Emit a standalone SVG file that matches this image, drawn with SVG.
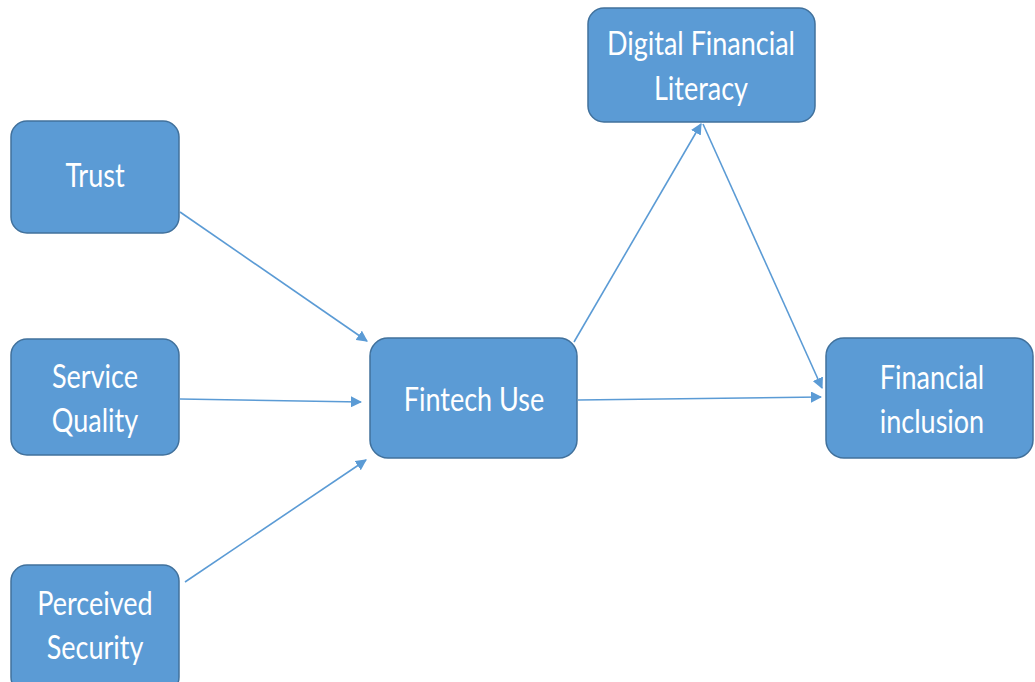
<svg xmlns="http://www.w3.org/2000/svg" width="1035" height="682" viewBox="0 0 1035 682">
  <defs>
    <style>
      .box { fill: #5B9BD5; stroke: #41719C; stroke-width: 1.5; }
      .lbl { fill: #FFFFFF; font-family: "Lato", "Open Sans", "Liberation Sans", sans-serif; font-size: 27px; text-anchor: middle; }
      .edge { fill: none; stroke: #5B9BD5; stroke-width: 1.6; marker-end: url(#arrow); }
    </style>
    <marker id="arrow" viewBox="0 0 10 10" refX="9" refY="5" markerWidth="7" markerHeight="7" markerUnits="strokeWidth" orient="auto">
      <path d="M0,0 L10,5 L0,10 z" fill="#5B9BD5"/>
    </marker>
  </defs>
  <rect width="1035" height="682" fill="#FFFFFF"/>

  <g id="connectors">
    <line class="edge" x1="180" y1="212" x2="367" y2="341"/>
    <line class="edge" x1="180" y1="399" x2="361" y2="402"/>
    <line class="edge" x1="185" y1="582" x2="366" y2="460"/>
    <line class="edge" x1="574" y1="342" x2="701" y2="124"/>
    <line class="edge" x1="703" y1="124" x2="822" y2="388"/>
    <line class="edge" x1="578" y1="400" x2="821" y2="397"/>
  </g>

  <g id="trust">
    <rect class="box" x="11" y="121" width="168" height="112" rx="16"/>
    <text class="lbl" transform="translate(95,187) scale(1,1.25)">Trust</text>
  </g>

  <g id="service-quality">
    <rect class="box" x="11" y="339" width="168" height="116" rx="16"/>
    <text class="lbl" transform="translate(95,388) scale(1,1.25)"><tspan x="0" y="0">Service</tspan><tspan x="0" dy="35.2">Quality</tspan></text>
  </g>

  <g id="perceived-security">
    <rect class="box" x="11" y="565" width="168" height="128" rx="16"/>
    <text class="lbl" transform="translate(95,615) scale(1,1.25)"><tspan x="0" y="0">Perceived</tspan><tspan x="0" dy="35.2">Security</tspan></text>
  </g>

  <g id="fintech-use">
    <rect class="box" x="370" y="338" width="207" height="120" rx="18"/>
    <text class="lbl" transform="translate(474,411) scale(1,1.25)">Fintech Use</text>
  </g>

  <g id="digital-financial-literacy">
    <rect class="box" x="588" y="8" width="227" height="114" rx="16"/>
    <text class="lbl" transform="translate(701,55) scale(1,1.25)"><tspan x="0" y="0">Digital Financial</tspan><tspan x="0" dy="36">Literacy</tspan></text>
  </g>

  <g id="financial-inclusion">
    <rect class="box" x="826" y="338" width="207" height="120" rx="18"/>
    <text class="lbl" transform="translate(932,389) scale(1,1.25)"><tspan x="0" y="0">Financial</tspan><tspan x="0" dy="35.2">inclusion</tspan></text>
  </g>
</svg>
